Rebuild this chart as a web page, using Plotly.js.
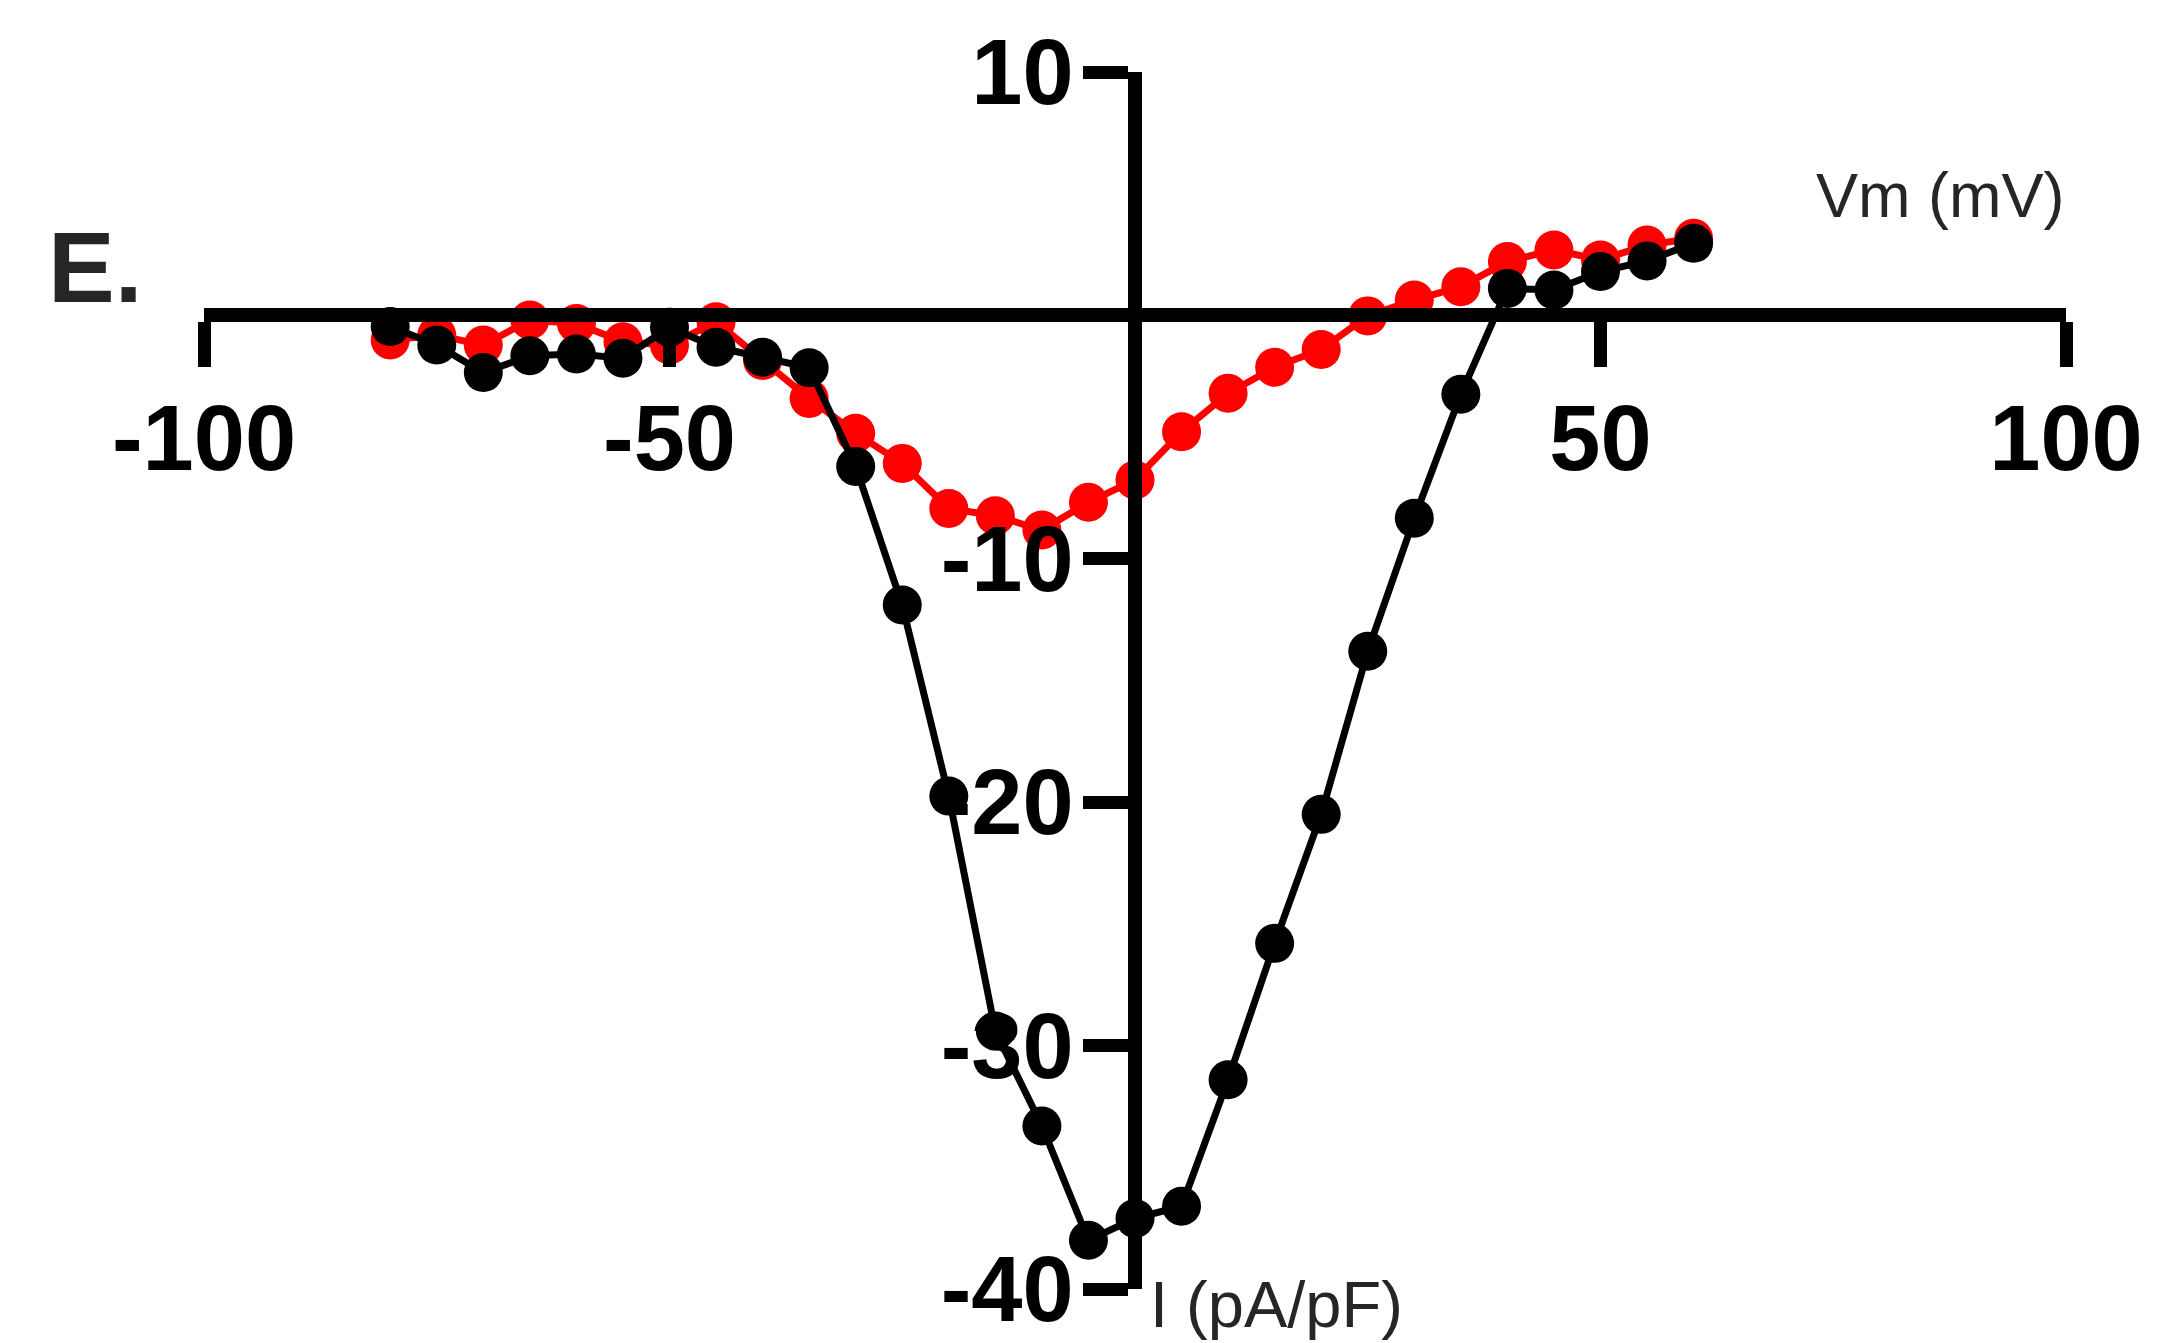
<!DOCTYPE html>
<html>
<head>
<meta charset="utf-8">
<script src="https://cdn.plot.ly/plotly-3.0.1.min.js"></script>
<style>
  html, body { margin: 0; padding: 0; background: #fff; }
  #grafica { width: 2184px; height: 1343px; }
</style>
</head>
<body>
<div id="grafica"></div>
<script>
// membrane potential steps (mV)
const voltajes = [-80, -75, -70, -65, -60, -55, -50, -45, -40, -35, -30, -25, -20, -15,
                  -10, -5, 0, 5, 10, 15, 20, 25, 30, 35, 40, 45, 50, 55, 60];

// current density, black trace (pA/pF)
const corrienteNegra = [-0.46, -1.22, -2.35, -1.66, -1.59, -1.76, -0.49, -1.31, -1.72, -2.15,
                        -6.21, -11.9, -19.75, -29.4, -33.3, -38.0, -37.1, -36.6, -31.4, -25.8,
                        -20.5, -13.8, -8.33, -3.24, 1.11, 1.04, 1.8, 2.24, 2.96];

// current density, red trace (pA/pF)
const corrienteRoja = [-1.01, -0.81, -1.22, -0.19, -0.33, -1.08, -1.22, -0.26, -1.85, -3.41,
                       -4.84, -6.08, -7.93, -8.23, -8.82, -7.68, -6.76, -4.78, -3.2, -2.13,
                       -1.4, -0.02, 0.63, 1.18, 2.21, 2.69, 2.28, 2.89, 3.17];

const ticksX = [-100, -50, 50, 100];
const ticksY = [10, -10, -20, -30, -40];

const fuenteTicks = { family: 'Liberation Sans, Arial, sans-serif', size: 92, color: '#000', weight: 'bold' };
const fuenteTitulos = { family: 'Liberation Sans, Arial, sans-serif', size: 63, color: '#262626' };

const trazaRoja = {
    x: voltajes, y: corrienteRoja, type: 'scatter', mode: 'lines+markers',
    line: { color: '#ff0000', width: 7 },
    marker: { color: '#ff0000', size: 39 },
    cliponaxis: false, showlegend: false
};

const trazaNegra = {
    x: voltajes, y: corrienteNegra, type: 'scatter', mode: 'lines+markers',
    line: { color: '#000000', width: 7 },
    marker: { color: '#000000', size: 39 },
    cliponaxis: false, showlegend: false
};

const layout = {
    width: 2184, height: 1343,
    margin: { l: 204, r: 118, t: 72, b: 54, pad: 0 },
    paper_bgcolor: '#fff', plot_bgcolor: '#fff',
    xaxis: {
        range: [-100, 100], anchor: 'free', position: 0.8,
        showgrid: false, zeroline: false,
        showline: true, linecolor: '#000', linewidth: 14,
        ticks: 'outside', ticklen: 45, tickwidth: 13, tickcolor: '#000',
        tickvals: ticksX, ticktext: ticksX.map(String),
        tickfont: fuenteTicks, ticklabelstandoff: -8
    },
    yaxis: {
        range: [-40, 10], anchor: 'free', position: 0.5,
        showgrid: false, zeroline: false,
        showline: true, linecolor: '#000', linewidth: 14,
        ticks: 'outside', ticklen: 45, tickwidth: 13, tickcolor: '#000',
        tickvals: ticksY, ticktext: ticksY.map(String),
        tickfont: fuenteTicks, ticklabelstandoff: -9
    },
    annotations: [
        { text: 'Vm (mV)', x: 86.5, y: 4.95, xref: 'x', yref: 'y', xanchor: 'center', yanchor: 'middle',
          showarrow: false, font: fuenteTitulos },
        { text: 'I (pA/pF)', x: 0.507, y: -0.013, xref: 'paper', yref: 'paper', xanchor: 'left', yanchor: 'middle',
          showarrow: false, font: { family: 'Liberation Sans, Arial, sans-serif', size: 65, color: '#262626' } },
        { text: 'E.', x: -0.085, y: 0.84, xref: 'paper', yref: 'paper', xanchor: 'left', yanchor: 'middle',
          showarrow: false, font: { family: 'Liberation Sans, Arial, sans-serif', size: 100, color: '#262626', weight: 'bold' } }
    ]
};

Plotly.newPlot('grafica', [trazaRoja, trazaNegra], layout, { staticPlot: true });
</script>
</body>
</html>
